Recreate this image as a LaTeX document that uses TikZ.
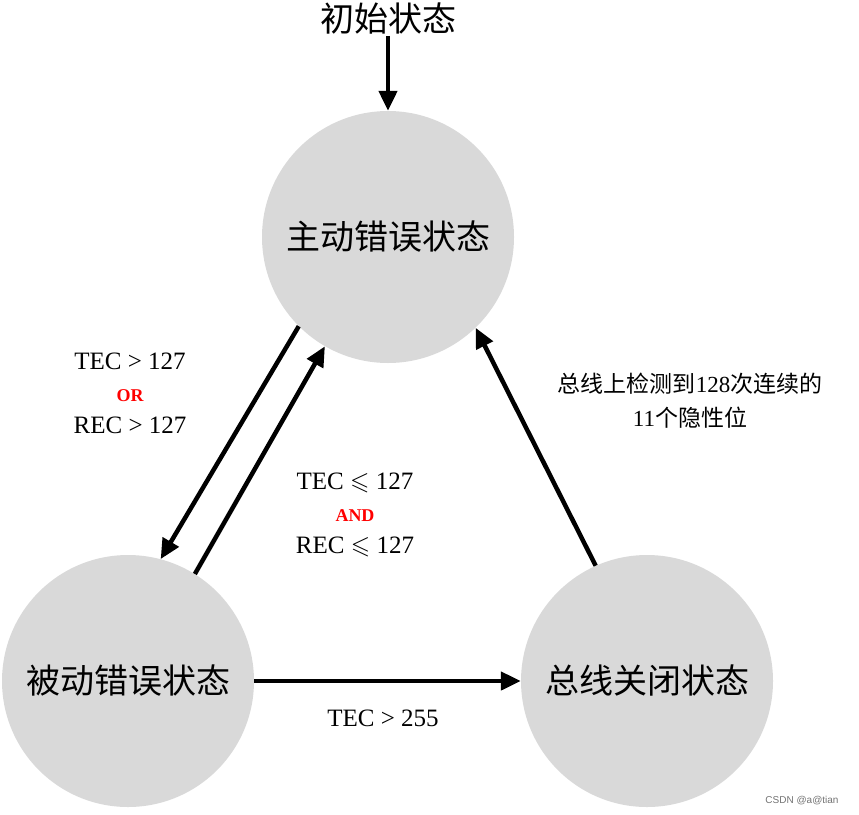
\documentclass[tikz,border=0pt]{standalone}
\usepackage{fontspec}
\usepackage{amssymb}
\setmainfont{Liberation Serif}
\newfontfamily\cjk{Noto Sans CJK SC}
\newfontfamily\wmfont{Liberation Sans}
\usetikzlibrary{positioning, arrows.meta}

\begin{document}
\begin{tikzpicture}[
        x=1pt, y=-1pt,
        state/.style={circle, fill=black!15, minimum size=252pt, inner sep=0pt, align=center, font=\cjk\fontsize{34}{40}\selectfont},
        cond/.style={align=center, font=\fontsize{25}{32}\selectfont},
        arrow/.style={-{Triangle[length=20pt, width=18pt]}, line width=4.5pt, draw=black}
    ]
    \useasboundingbox (0,0) rectangle (859,814);

    % States
    \node[state] (active) at (388,237) {主动错误状态};
    \node[state] (passive) at (128,681) {被动错误状态};
    \node[state] (busoff) at (647,681) {总线关闭状态};
    \node[font=\cjk\fontsize{34}{40}\selectfont, inner sep=1pt] (init) at (388,19) {初始状态};

    % Conditions
    \node[cond] (toPassive) at (130,393) {TEC > 127\\\textcolor{red}{\fontsize{18}{20}\selectfont\bfseries OR}\\REC > 127};
    \node[cond] (toActive) at (355,515) {TEC $\leqslant$ 127\\\textcolor{red}{\fontsize{18}{20}\selectfont\bfseries AND}\\REC $\leqslant$ 127};
    \node[align=center, font=\fontsize{23}{34}\selectfont] (recover) at (690,401) {{\cjk 总线上检测到}128{\cjk 次连续的}\\11{\cjk 个隐性位}};
    \node[cond] (toBusoff) at (383,718) {TEC > 255};

    % Transitions
    \draw[arrow] (init) -- (active);
    \draw[arrow] (active.225) -- (passive.75);
    \draw[arrow] (passive.58) -- (active.240);
    \draw[arrow] (busoff.114) -- (active.-46);
    \draw[arrow] (passive.east) -- (busoff.west);

    % Watermark
    \node[font=\wmfont\fontsize{10}{12}\selectfont, text=black!55] (mark) at (802,801) {CSDN @a@tian};
\end{tikzpicture}
\end{document}
